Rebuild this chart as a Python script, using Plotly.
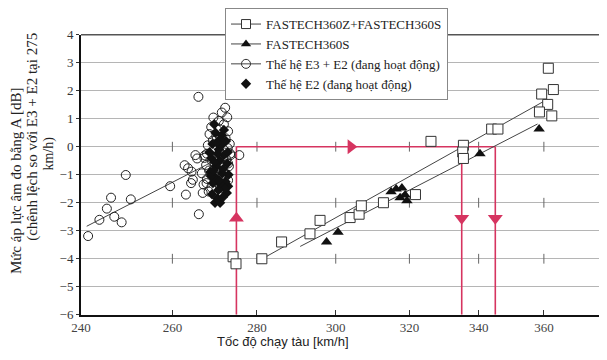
import math
import plotly.graph_objects as go

# ---------------- data ----------------
x_ticks = [240, 260, 280, 300, 320, 340, 360]
y_ticks = [-6, -5, -4, -3, -2, -1, 0, 1, 2, 3, 4]

# FASTECH360Z + FASTECH360S (squares)
sq_x = [274.2, 274.9, 281.2, 286.1, 293.3, 295.9, 303.8, 306.2, 306.8, 312.8, 321.7,
        326.1, 335.5, 335.3, 335.5, 343.9, 345.8, 361.4, 359.3, 363.0, 361.2, 358.6, 362.5]
sq_y = [-3.93, -4.18, -4.00, -3.40, -3.11, -2.63, -2.53, -2.41, -2.11, -2.00, -1.71,
        0.19, 0.05, -0.19, -0.42, 0.63, 0.63, 2.80, 1.88, 2.04, 1.51, 1.24, 1.10]

# FASTECH360S (triangles)
tri_x = [297.6, 300.6, 314.9, 316.3, 317.9, 318.8, 317.4, 319.3, 340.4, 358.5]
tri_y = [-3.40, -3.05, -1.61, -1.51, -1.47, -1.72, -1.82, -1.93, -0.25, 0.63]

# E3 + E2 in service (open circles)
circ_x = [241.5, 243.9, 245.5, 246.4, 247.1, 248.7, 249.6, 250.7, 259.5, 263.1, 266.0, 266.1,
          262.8, 263.6, 264.4, 265.3, 265.7, 264.7, 264.3, 267.5, 267.0, 267.9, 275.7, 273.5, 273.0,
          272.3, 271.5, 272.8, 269.5, 270.8, 272.0, 269.0, 271.0, 273.0, 268.6, 270.2, 272.4,
          269.4, 271.6, 273.4, 268.2, 270.6, 272.9, 269.8, 271.9, 268.0, 273.6, 270.3, 267.4,
          272.6, 269.2, 271.2, 267.8, 273.2, 270.0, 268.5, 272.0, 266.8, 269.6, 271.5, 268.0,
          273.0, 270.4, 267.2, 269.0, 271.8, 268.4, 270.6]
circ_y = [-3.19, -2.61, -2.21, -1.82, -2.50, -2.70, -1.01, -1.88, -1.41, -1.71, 1.78, -2.41,
          -0.66, -0.77, -0.89, -0.30, -0.42, -1.18, -1.30, -0.31, -1.65, -1.30, -0.30, -0.25, -0.60,
          1.39, 1.22, 1.05, 1.04, 0.92, 0.80, 0.70, 0.62, 0.55, 0.45, 0.38, 0.30,
          0.22, 0.15, 0.10, 0.05, 0.00, -0.05, -0.12, -0.20, -0.25, -0.30, -0.35, -0.40,
          -0.45, -0.52, -0.58, -0.65, -0.70, -0.78, -0.85, -0.92, -0.95, -1.02, -1.10, -1.15,
          -1.20, -1.28, -1.35, -1.45, -1.50, -1.60, -1.70]

# E2 in service (filled diamonds)
dia_x = [269.9, 271.1, 272.7, 273.0, 271.8, 270.5, 272.4, 269.2, 270.0, 271.5, 272.5, 269.3,
         270.8, 272.0, 269.0, 271.0, 272.8, 270.2, 268.8, 271.6, 273.1, 270.0, 269.4, 271.2,
         272.2, 270.7, 268.6, 271.0, 272.0, 269.7, 270.5, 271.8, 269.8, 270.9, 268.9, 272.9,
         271.3, 270.3, 269.6]
dia_y = [-2.00, -2.00, -1.65, -1.41, -1.80, -1.85, -1.25, -1.70, 0.50, 0.40, 0.20, 0.10,
         -0.10, -0.30, -0.40, -0.50, -0.60, -0.70, -0.90, -0.95, -1.00, -1.10, -1.30, -1.35,
         -1.50, -1.55, -0.20, 0.25, 0.60, 0.80, -0.25, -0.80, -0.55, -1.20, -1.05, -0.20,
         0.05, 0.15, -0.85]

# regression lines (end points)
fit_circ_x = [241.2, 269.9]
fit_circ_y = [-2.84, -0.49]
fit_sq_x = [281.2, 360.3]
fit_sq_y = [-4.01, 1.64]
fit_tri_x = [290.8, 358.0]
fit_tri_y = [-3.56, 0.81]

# red reference construction (speeds and level)
ref_speeds = [275, 335, 345]
ref_level = 0
arrow_level = -2.55
arrow_mid_speed = 304

legend_names = ["FASTECH360Z+FASTECH360S", "FASTECH360S",
                "Thế hệ E3 + E2 (đang hoạt động)", "Thế hệ E2 (đang hoạt động)"]

# ---------------- figure ----------------
OFF = 8                      # page body margin
W, H = 607 - OFF, 360 - OFF
PL, PR, PT, PB = 81, 602, 29, 314   # plot area in window pixels
RED = "rgb(214,52,96)"
SERIF = "Liberation Serif"


def px(xp):
    return (xp - OFF) / W


def py(yp):
    return (H - (yp - OFF)) / H


fig = go.Figure()

# small cross tick marks on rows 0, -2, -4
cross_x, cross_y = [], []
for yy in [0, -2, -4]:
    for xx in x_ticks[1:]:
        cross_x.append(xx)
        cross_y.append(yy)
fig.add_trace(go.Scatter(x=cross_x, y=cross_y, mode="markers", showlegend=False, hoverinfo="skip",
                         marker=dict(symbol="line-ns", size=7, line=dict(color="#666", width=1))))

# red construction lines
fig.add_trace(go.Scatter(x=[ref_speeds[0], ref_speeds[-1]], y=[ref_level, ref_level], mode="lines",
                         line=dict(color=RED, width=1.6), showlegend=False, hoverinfo="skip"))
for s in ref_speeds:
    fig.add_trace(go.Scatter(x=[s, s], y=[ref_level, y_ticks[0]], mode="lines",
                             line=dict(color=RED, width=1.6), showlegend=False, hoverinfo="skip"))
fig.add_trace(go.Scatter(x=[ref_speeds[0]], y=[arrow_level], mode="markers", showlegend=False,
                         marker=dict(symbol="triangle-up", size=13, color=RED)))
fig.add_trace(go.Scatter(x=[arrow_mid_speed], y=[ref_level], mode="markers", showlegend=False,
                         marker=dict(symbol="triangle-right", size=13, color=RED)))
fig.add_trace(go.Scatter(x=ref_speeds[1:], y=[arrow_level] * 2, mode="markers", showlegend=False,
                         marker=dict(symbol="triangle-down", size=13, color=RED)))

# regression lines
for fx, fy in [(fit_circ_x, fit_circ_y), (fit_sq_x, fit_sq_y), (fit_tri_x, fit_tri_y)]:
    fig.add_trace(go.Scatter(x=fx, y=fy, mode="lines", line=dict(color="#444", width=1),
                             showlegend=False, hoverinfo="skip"))

# data markers
fig.add_trace(go.Scatter(x=circ_x, y=circ_y, mode="markers", showlegend=False,
                         marker=dict(symbol="circle-open", size=9, color="#222", line=dict(width=1))))
fig.add_trace(go.Scatter(x=dia_x, y=dia_y, mode="markers", showlegend=False,
                         marker=dict(symbol="diamond", size=8, color="#111")))
fig.add_trace(go.Scatter(x=sq_x, y=sq_y, mode="markers", showlegend=False,
                         marker=dict(symbol="square", size=10, color="white",
                                     line=dict(color="#333", width=1))))
fig.add_trace(go.Scatter(x=tri_x, y=tri_y, mode="markers", showlegend=False,
                         marker=dict(symbol="triangle-up", size=10, color="#111")))

# legend-only entries
leg_styles = [
    dict(mode="lines+markers", marker=dict(symbol="square", size=9, color="white", line=dict(color="#333", width=1))),
    dict(mode="lines+markers", marker=dict(symbol="triangle-up", size=9, color="#111")),
    dict(mode="lines+markers", marker=dict(symbol="circle-open", size=9, color="#333")),
    dict(mode="markers", marker=dict(symbol="diamond", size=8, color="#111")),
]
for name, st in zip(legend_names, leg_styles):
    fig.add_trace(go.Scatter(x=[None], y=[None], name=name, line=dict(color="#444", width=1), **st))

fig.update_xaxes(type="log", range=[math.log10(240), math.log10(378.8)],
                 domain=[px(PL), px(PR)],
                 tickvals=x_ticks, ticktext=[str(t) for t in x_ticks],
                 showgrid=False, zeroline=False, showline=True, linecolor="#111", linewidth=2,
                 ticks="inside", ticklen=5, tickcolor="#333", automargin=False,
                 tickfont=dict(family=SERIF, size=13, color="#444"))
fig.update_yaxes(range=[-6, 4], tickvals=y_ticks, domain=[py(PB), py(PT)],
                 showgrid=True, gridcolor="#b5b5b5", gridwidth=1,
                 zeroline=False, showline=True, linecolor="#111", linewidth=2,
                 ticks="outside", ticklen=3, tickcolor="#333", automargin=False,
                 tickfont=dict(family=SERIF, size=13, color="#333"))

fig.add_shape(type="line", xref="paper", yref="paper", x0=px(PL), x1=px(PR), y0=py(PT), y1=py(PT),
              line=dict(color="#555", width=1.5))
fig.add_shape(type="line", xref="paper", yref="paper", x0=px(PR), x1=px(PR), y0=py(PB), y1=py(PT),
              line=dict(color="#777", width=1.5))

ann = []
ann.append(dict(text="Mức áp lực âm đo bằng A [dB]", x=px(16), y=py(178),
                textangle=-90, font=dict(family=SERIF, size=15, color="#222")))
ann.append(dict(text="(chênh lệch so với E3 + E2 tại 275", x=px(33), y=py(133),
                textangle=-90, font=dict(family=SERIF, size=15, color="#222")))
ann.append(dict(text="km/h)", x=px(49), y=py(150),
                textangle=-90, font=dict(family=SERIF, size=14, color="#222")))
ann.append(dict(text="Tốc độ chạy tàu [km/h]", x=px(283), y=py(341),
                font=dict(family="Liberation Sans", size=13, color="#222")))
for a in ann:
    a.update(xref="paper", yref="paper", xanchor="center", yanchor="middle", showarrow=False)
fig.update_layout(annotations=ann)

fig.update_layout(
    width=W, height=H,
    margin=dict(l=0, r=0, t=0, b=0),
    paper_bgcolor="white", plot_bgcolor="white",
    legend=dict(x=px(225), y=py(2), xanchor="left", yanchor="top",
                bgcolor="white", bordercolor="#888", borderwidth=1,
                font=dict(family=SERIF, size=13, color="#222"),
                tracegroupgap=0, itemwidth=30),
)

fig.write_html("out.html")
